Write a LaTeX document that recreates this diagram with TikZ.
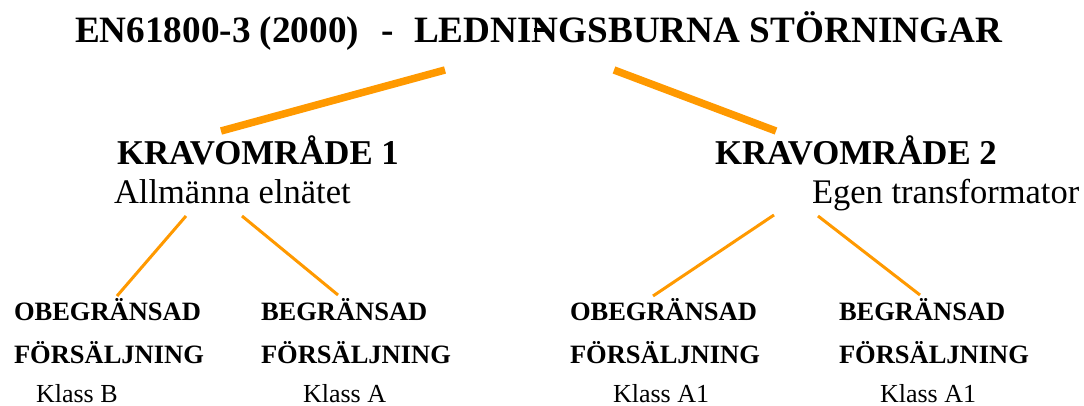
\documentclass[tikz,border=0pt]{standalone}
\usepackage{fontspec}
\setmainfont{Liberation Serif}
\definecolor{lineorange}{RGB}{255,153,0}
\begin{document}
\begin{tikzpicture}[x=1pt,y=-1pt,
  txt/.style={anchor=base west,inner sep=0pt,outer sep=0pt},
  titlefont/.style={font=\fontsize{37.2}{40}\selectfont\bfseries},
  headfont/.style={font=\fontsize{34.8}{38}\selectfont\bfseries},
  subfont/.style={font=\fontsize{34.5}{38}\selectfont},
  leaffont/.style={font=\fontsize{26.5}{30}\selectfont\bfseries},
  klassfont/.style={font=\fontsize{26}{30}\selectfont},
  thick line/.style={draw=lineorange,line width=7.5pt},
  thin line/.style={draw=lineorange,line width=3pt}]
\useasboundingbox (0,0) rectangle (1084,406);
% title
\node[txt,titlefont] (t1) at (75,43) {EN61800-3 (2000)};
\node[txt,titlefont] (t2) at (381,43) {-};
\node[txt,titlefont] (t3) at (414,43) {LEDNINGSBURNA STÖRNINGAR};
\fill (534,28) rectangle (546,32);
% level 1
\node[txt,headfont] (k1) at (117,165) {KRAVOMRÅDE 1};
\node[txt,subfont] (s1) at (114,204) {Allmänna elnätet};
\node[txt,headfont] (k2) at (715,165) {KRAVOMRÅDE 2};
\node[txt,subfont] (s2) at (812,204) {Egen transformator};
% leaves
\node[txt,leaffont] (a1) at (14,320) {OBEGRÄNSAD};
\node[txt,leaffont] (a2) at (14,363) {FÖRSÄLJNING};
\node[txt,klassfont] (a3) at (36,402) {Klass B};
\node[txt,leaffont] (b1) at (261,320) {BEGRÄNSAD};
\node[txt,leaffont] (b2) at (261,363) {FÖRSÄLJNING};
\node[txt,klassfont] (b3) at (303,402) {Klass A};
\node[txt,leaffont] (c1) at (570,320) {OBEGRÄNSAD};
\node[txt,leaffont] (c2) at (570,363) {FÖRSÄLJNING};
\node[txt,klassfont] (c3) at (613,402) {Klass A1};
\node[txt,leaffont] (d1) at (839,320) {BEGRÄNSAD};
\node[txt,leaffont] (d2) at (839,363) {FÖRSÄLJNING};
\node[txt,klassfont] (d3) at (880,402) {Klass A1};
% connector end points
\coordinate (tl) at (445,70);
\coordinate (tr) at (614,70);
\coordinate (k1top) at (221,131);
\coordinate (k2top) at (776,131);
\coordinate (s1l) at (186,216);
\coordinate (s1r) at (242,216);
\coordinate (s2l) at (774,215);
\coordinate (s2r) at (818,216);
\coordinate (a1top) at (117,296);
\coordinate (b1top) at (338,295);
\coordinate (c1top) at (653,296);
\coordinate (d1top) at (920,295);
% connectors
\draw[thick line] (tl) -- (k1top);
\draw[thick line] (tr) -- (k2top);
\draw[thin line] (s1l) -- (a1top);
\draw[thin line] (s1r) -- (b1top);
\draw[thin line] (s2l) -- (c1top);
\draw[thin line] (s2r) -- (d1top);
\end{tikzpicture}
\end{document}
